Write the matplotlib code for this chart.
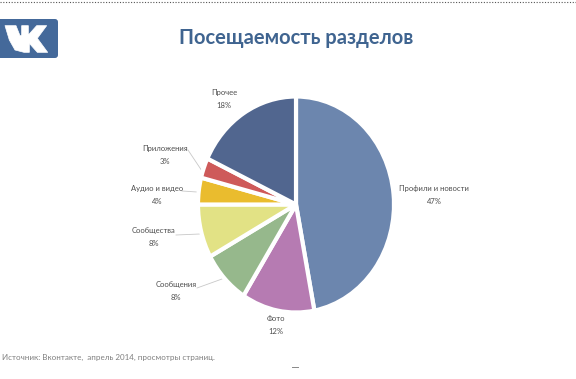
import matplotlib
matplotlib.use("Agg")
import matplotlib.pyplot as plt
from matplotlib.patches import FancyBboxPatch, Polygon

plt.rcParams['font.family'] = ['Lato', 'DejaVu Sans']

categories = ["Профили и новости", "Фото", "Сообщения", "Сообщества", "Аудио и видео", "Приложения", "Прочее"]
values = [47, 12, 8, 8, 4, 3, 18]
colors = ["#6C86AE", "#B67BB2", "#96B88C", "#E2E285", "#EABC2E", "#CE5A5A", "#51668F"]
label_px = [(434, 194.5), (276, 325), (176, 291.5), (154, 236.5), (157, 194.5), (165, 154.5), (224, 99)]
leader_px = [None, None, ((197, 288), (222, 279)), ((176, 235), (200, 234)), ((182, 191), (197, 192)), ((188, 150), (202, 171)), None]
logo_glyph = [(15, 32), (48, 32), (60, 62), (65, 62), (65, 32), (85, 32), (85, 60), (110, 32), (140, 32),
              (112, 70), (143, 112), (112, 112), (88, 85), (88, 112), (72, 112), (45, 105), (28, 75)]

W, H = 576, 379
fig = plt.figure(figsize=(W / 100, H / 100), dpi=100, facecolor="white")
bg = fig.add_axes([0, 0, 1, 1])
bg.set_xlim(0, W)
bg.set_ylim(H, 0)
bg.axis("off")

# pie occupies an ellipse in pixels (source screenshot was stretched)
cx, cy, rx, ry = 296, 204.5, 98, 108
ax = fig.add_axes([(cx - rx) / W, 1 - (cy + ry) / H, 2 * rx / W, 2 * ry / H])
ax.pie(values, colors=colors, startangle=90, counterclock=False, radius=1,
       wedgeprops=dict(edgecolor="white", linewidth=3.0, joinstyle="round"))
ax.set_aspect("auto")
ax.set_xlim(-1, 1)
ax.set_ylim(-1, 1)

# labels
for name, v, (lx, ly), lead in zip(categories, values, label_px, leader_px):
    bg.text(lx, ly, f"{name}\n{v}%", ha="center", va="center", fontsize=5.5,
            color="#4D4D4D", linespacing=2.0)
    if lead:
        bg.plot([lead[0][0], lead[1][0]], [lead[0][1], lead[1][1]], color="#C8C8C8", lw=0.6)

# title
bg.text(296, 38, "Посещаемость разделов", ha="center", va="center", fontsize=14.5,
        color="#3F6490", fontweight="bold")

# logo
bg.add_patch(FancyBboxPatch((-8, 19), 66, 39, boxstyle="round,pad=0,rounding_size=3",
                            facecolor="#44699A", edgecolor="none"))
bg.add_patch(Polygon([(x / 3, y / 3 + 15) for x, y in logo_glyph], closed=True,
                     facecolor="white", edgecolor="white", lw=0.5, joinstyle="round"))

# source note and screenshot leftovers
bg.text(2, 357, "Источник: Вконтакте,  апрель 2014, просмотры страниц.", ha="left", va="center",
        fontsize=5.8, color="#7F7F7F")
bg.plot([0, W], [1.5, 1.5], color="#555555", lw=0.8, ls=(0, (1, 1.5)))
bg.plot([292, 298], [367, 367], color="#888888", lw=0.7)

fig.savefig("out.png", dpi=100, facecolor="white")
